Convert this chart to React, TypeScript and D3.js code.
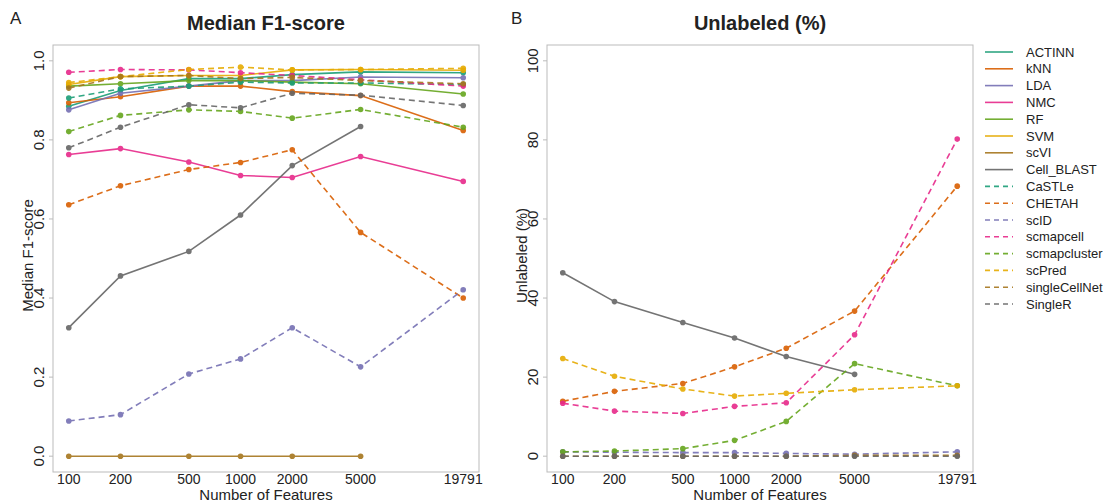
import React from "react";
import * as d3 from "d3";

const features = [100, 200, 500, 1000, 2000, 5000, 19791];
const xTickLabels = ["100", "200", "500", "1000", "2000", "5000", "19791"];
const f1Ticks = [0, 0.2, 0.4, 0.6, 0.8, 1.0];
const unlTicks = [0, 20, 40, 60, 80, 100];

const methods = [
  "ACTINN", "kNN", "LDA", "NMC", "RF", "SVM", "scVI", "Cell_BLAST",
  "CaSTLe", "CHETAH", "scID", "scmapcell", "scmapcluster", "scPred", "singleCellNet", "SingleR",
];
const dashed = [false, false, false, false, false, false, false, false, true, true, true, true, true, true, true, true];
const colors = [
  "#1B9E77", "#D95F02", "#7570B3", "#E7298A", "#66A61E", "#E6AB02", "#A6761D", "#666666",
  "#1B9E77", "#D95F02", "#7570B3", "#E7298A", "#66A61E", "#E6AB02", "#A6761D", "#666666",
];

type V = number | null;

// Median F1-score per method, per number of features
const f1ACTINN: V[] = [0.885, 0.925, 0.955, 0.955, 0.965, 0.972, 0.970];
const f1kNN: V[] = [0.894, 0.909, 0.936, 0.936, 0.922, 0.912, 0.824];
const f1LDA: V[] = [0.876, 0.918, 0.936, 0.950, 0.950, 0.959, 0.957];
const f1NMC: V[] = [0.763, 0.778, 0.744, 0.710, 0.705, 0.758, 0.695];
const f1RF: V[] = [0.936, 0.942, 0.950, 0.950, 0.946, 0.942, 0.916];
const f1SVM: V[] = [0.940, 0.960, 0.963, 0.963, 0.977, 0.978, 0.976];
const f1scVI: V[] = [0, 0, 0, 0, 0, 0, null];
const f1CellBLAST: V[] = [0.325, 0.456, 0.518, 0.610, 0.735, 0.834, null];
const f1CaSTLe: V[] = [0.906, 0.929, 0.936, 0.946, 0.944, 0.944, 0.940];
const f1CHETAH: V[] = [0.636, 0.684, 0.725, 0.743, 0.775, 0.566, 0.400];
const f1scID: V[] = [0.089, 0.105, 0.208, 0.246, 0.325, 0.226, 0.421];
const f1scmapcell: V[] = [0.971, 0.978, 0.977, 0.970, 0.963, 0.952, 0.936];
const f1scmapcluster: V[] = [0.821, 0.862, 0.876, 0.872, 0.855, 0.877, 0.832];
const f1scPred: V[] = [0.945, 0.960, 0.978, 0.984, 0.977, 0.978, 0.981];
const f1singleCellNet: V[] = [0.931, 0.960, 0.963, 0.955, 0.958, 0.950, 0.942];
const f1SingleR: V[] = [0.780, 0.832, 0.889, 0.881, 0.918, 0.913, 0.887];

// Unlabeled (%) per method
const unNone: V[] = [null, null, null, null, null, null, null];
const unCellBLAST: V[] = [46.4, 39.1, 33.8, 29.9, 25.2, 20.7, null];
const unCHETAH: V[] = [13.9, 16.4, 18.4, 22.6, 27.3, 36.7, 68.3];
const unscID: V[] = [1.1, 1.0, 0.9, 0.9, 0.7, 0.5, 1.1];
const unscmapcell: V[] = [13.4, 11.4, 10.8, 12.6, 13.5, 30.7, 80.2];
const unscmapcluster: V[] = [1.1, 1.3, 1.9, 4.0, 8.8, 23.4, 17.8];
const unscPred: V[] = [24.7, 20.2, 17.0, 15.2, 15.9, 16.8, 17.8];
const unsingleCellNet: V[] = [0, 0, 0, 0, 0, 0.2, 0.2];
const unSingleR: V[] = [0, 0, 0, 0, 0, 0, 0];

const f1Data: V[][] = [
  f1ACTINN, f1kNN, f1LDA, f1NMC, f1RF, f1SVM, f1scVI, f1CellBLAST,
  f1CaSTLe, f1CHETAH, f1scID, f1scmapcell, f1scmapcluster, f1scPred, f1singleCellNet, f1SingleR,
];
const unData: V[][] = [
  unNone, unNone, unNone, unNone, unNone, unNone, unNone, unCellBLAST,
  unNone, unCHETAH, unscID, unscmapcell, unscmapcluster, unscPred, unsingleCellNet, unSingleR,
];

const FONT = "'Liberation Sans', Arial, sans-serif";
const TXT = "#222";

type PanelProps = {
  x0: number; x1: number; y0: number; y1: number;
  domain: [number, number]; ticks: number[]; tickFmt: (v: number) => string;
  data: V[][]; title: string; ylabel: string; letter: string; letterX: number;
};

function Panel(p: PanelProps) {
  const padX = ((p.x1 - p.x0) * 0.04) / 1.08;
  const padY = ((p.y1 - p.y0) * 0.04) / 1.08;
  const x = d3.scaleLog().domain([features[0], features[features.length - 1]]).range([p.x0 + padX, p.x1 - padX]);
  const y = d3.scaleLinear().domain(p.domain).range([p.y1 - padY, p.y0 + padY]);
  const line = d3
    .line<[number, V]>()
    .defined((d) => d[1] !== null)
    .x((d) => x(d[0]))
    .y((d) => y(d[1] as number));
  const cx = (p.x0 + p.x1) / 2;
  const cy = (p.y0 + p.y1) / 2;
  return (
    <g fontFamily={FONT}>
      <text x={p.letterX} y={24} fontSize={17} fill={TXT}>{p.letter}</text>
      <text x={cx} y={30} fontSize={20} fontWeight="bold" textAnchor="middle" fill={TXT}>{p.title}</text>
      <rect x={p.x0} y={p.y0} width={p.x1 - p.x0} height={p.y1 - p.y0} fill="none" stroke="#bbb" strokeWidth={1} />
      {p.ticks.map((t) => (
        <g key={"yt" + t}>
          <line x1={p.x0 - 4} x2={p.x0} y1={y(t)} y2={y(t)} stroke="#bbb" />
          <text transform={`translate(${p.x0 - 9},${y(t)}) rotate(-90)`} fontSize={15} textAnchor="middle" fill={TXT}>
            {p.tickFmt(t)}
          </text>
        </g>
      ))}
      {features.map((f, i) => (
        <text key={"xt" + f} x={x(f)} y={484} fontSize={14} textAnchor="middle" fill={TXT}>
          {xTickLabels[i]}
        </text>
      ))}
      <text x={cx} y={500} fontSize={15} textAnchor="middle" fill={TXT}>Number of Features</text>
      <text transform={`translate(${p.x0 - 20},${cy - 3}) rotate(-90)`} fontSize={15} textAnchor="middle" fill={TXT}>
        {p.ylabel}
      </text>
      {p.data.map((vals, m) => {
        const pts: [number, V][] = features.map((f, i) => [f, vals[i]]);
        if (pts.every((d) => d[1] === null)) return null;
        return (
          <g key={methods[m]} opacity={0.9}>
            <path
              d={line(pts) || ""}
              fill="none"
              stroke={colors[m]}
              strokeWidth={1.6}
              strokeDasharray={dashed[m] ? "6,4" : undefined}
            />
            {pts
              .filter((d) => d[1] !== null)
              .map((d) => (
                <circle key={d[0]} cx={x(d[0])} cy={y(d[1] as number)} r={2.8} fill={colors[m]} />
              ))}
          </g>
        );
      })}
    </g>
  );
}

export default function App() {
  return (
    <svg width={1119} height={503} style={{ position: "absolute", left: 0, top: 0, background: "#fff" }}>
      <Panel
        x0={53} x1={479} y0={45} y1={472}
        domain={[0, 1]} ticks={f1Ticks} tickFmt={(v) => v.toFixed(1)}
        data={f1Data} title="Median F1-score" ylabel="Median F1-score" letter="A" letterX={10}
      />
      <Panel
        x0={547} x1={973} y0={45} y1={472}
        domain={[0, 100]} ticks={unlTicks} tickFmt={(v) => String(v)}
        data={unData} title="Unlabeled (%)" ylabel="Unlabeled (%)" letter="B" letterX={511}
      />
      <g fontFamily={FONT}>
        {methods.map((m, i) => {
          const ly = 52 + i * 16.8;
          return (
            <g key={m}>
              <line x1={985} x2={1013} y1={ly} y2={ly} stroke={colors[i]} strokeWidth={1.6}
                strokeDasharray={dashed[i] ? "5,4" : undefined} opacity={0.9} />
              <text x={1026} y={ly + 4.5} fontSize={13} fill={TXT}>{m}</text>
            </g>
          );
        })}
      </g>
    </svg>
  );
}
